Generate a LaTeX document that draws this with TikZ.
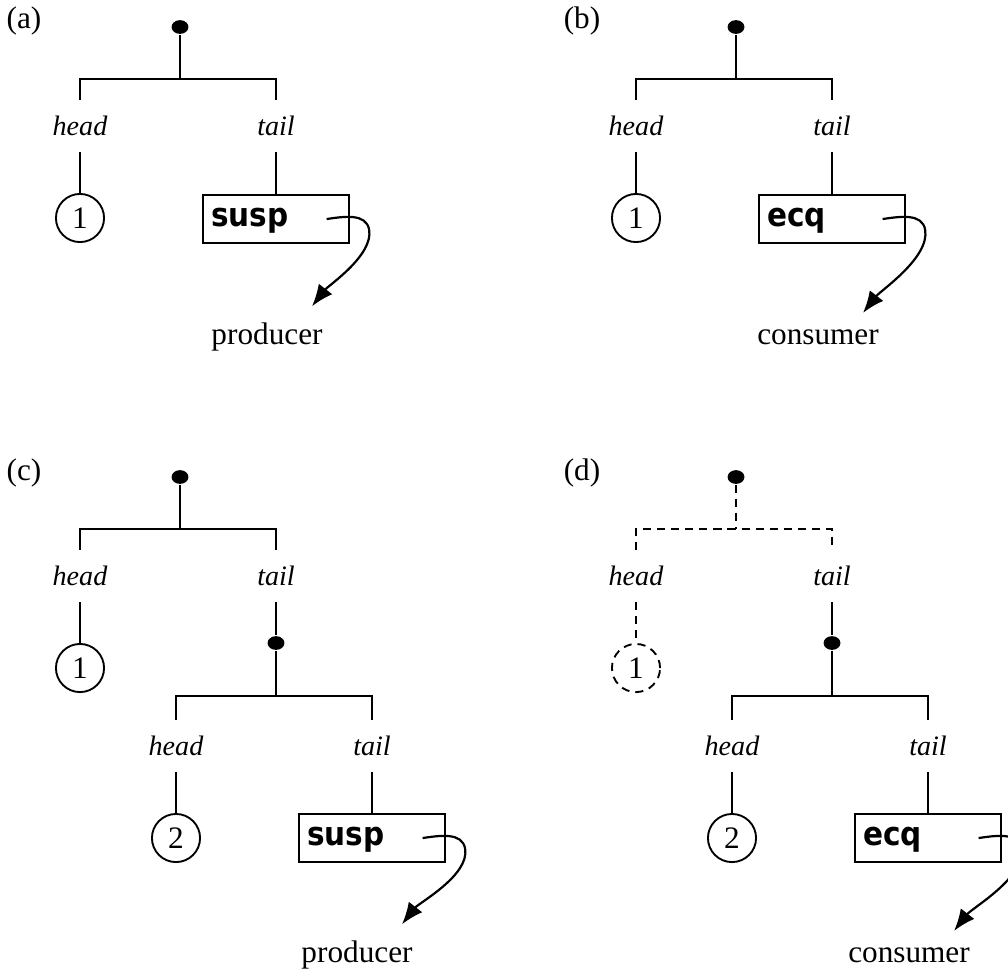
\documentclass[tikz,border=0pt]{standalone}
\usepackage{fontspec}
\setmainfont{Liberation Serif}
\newfontfamily\cellfont{DejaVu Sans}[FakeStretch=0.9]
\usetikzlibrary{arrows.meta,shapes.geometric}

\begin{document}
\begin{tikzpicture}[x=0.32pt,y=-0.32pt,
  font=\fontsize{10}{12}\selectfont,
  line width=0.6pt,
  dot/.style={ellipse,fill,inner sep=0pt,minimum width=5.4pt,minimum height=4.4pt},
  lbl/.style={font=\fontsize{9}{11}\selectfont\itshape,inner sep=0pt,minimum height=16pt},
  num/.style={circle,draw,inner sep=0pt,minimum size=15.4pt},
  cell/.style={draw,inner xsep=2.6pt,inner ysep=0pt,text width=41.4pt,align=left,
    text height=7.4pt,text depth=2.4pt,minimum height=15.4pt,
    font=\cellfont\bfseries\fontsize{10.5}{12}\selectfont},
  tag/.style={inner sep=0pt},
  gone/.style={dash pattern=on 2.6pt off 1.9pt},
  >={Latex[length=7pt,width=5.5pt]}]

\useasboundingbox (0,0) rectangle (1008,971);

% (a) cons cell, tail suspended on the producer
\node[tag] (la) at (24,21) {(a)};
\node[dot] (ra) at (180,27) {};
\coordinate (ba) at (180,79);
\node[lbl] (ha) at (80,126) {head};
\node[lbl] (ta) at (276,126) {tail};
\node[num] (na) at (80,218) {1};
\node[cell] (ca) at (276,219) {susp};
\node[tag] (pa) at (267,337) {producer};
\draw (ra) -- (ba);
\draw (ha.north) |- (ba) -| (ta.north);
\draw (ha.south) -- (na.north);
\draw (ta.south) -- (ca.north);
\draw[->,line width=0.7pt] ([xshift=-7.4pt]ca.east) to[out=8,in=100] ++(13.6pt,-3.4pt)
  to[out=-80,in=52,looseness=0.7] ([xshift=14.4pt,yshift=5pt]pa.north);

% (b) same cell, tail waiting on the consumer
\node[tag] (lb) at (582,21) {(b)};
\node[dot] (rb) at (736,27) {};
\coordinate (bb) at (736,79);
\node[lbl] (hb) at (636,126) {head};
\node[lbl] (tb) at (832,126) {tail};
\node[num] (nb) at (636,218) {1};
\node[cell] (cb) at (832,219) {ecq};
\node[tag] (pb) at (818,337) {consumer};
\draw (rb) -- (bb);
\draw (hb.north) |- (bb) -| (tb.north);
\draw (hb.south) -- (nb.north);
\draw (tb.south) -- (cb.north);
\draw[->,line width=0.7pt] ([xshift=-7.4pt]cb.east) to[out=8,in=100] ++(13.6pt,-3.4pt)
  to[out=-80,in=52,looseness=0.7] ([xshift=14.4pt,yshift=5pt]pb.north);

% (c) two cells, producer one step further
\node[tag] (lc) at (24,473) {(c)};
\node[dot] (rc) at (180,477) {};
\coordinate (bc) at (180,529);
\node[lbl] (hc) at (80,576) {head};
\node[lbl] (tc) at (276,576) {tail};
\node[num] (nc) at (80,668) {1};
\node[dot] (rc2) at (276,643) {};
\coordinate (bc2) at (276,696);
\node[lbl] (hc2) at (176,746) {head};
\node[lbl] (tc2) at (372,746) {tail};
\node[num] (nc2) at (176,838) {2};
\node[cell] (cc) at (372,838) {susp};
\node[tag] (pc) at (357,955) {producer};
\draw (rc) -- (bc);
\draw (hc.north) |- (bc) -| (tc.north);
\draw (hc.south) -- (nc.north);
\draw (tc.south) -- (rc2);
\draw (rc2) -- (bc2);
\draw (hc2.north) |- (bc2) -| (tc2.north);
\draw (hc2.south) -- (nc2.north);
\draw (tc2.south) -- (cc.north);
\draw[->,line width=0.7pt] ([xshift=-7.4pt]cc.east) to[out=8,in=100] ++(13.6pt,-3.4pt)
  to[out=-80,in=52,looseness=0.7] ([xshift=14.4pt,yshift=5pt]pc.north);

% (d) first cell consumed (dashed), consumer on the second
\node[tag] (ld) at (582,473) {(d)};
\node[dot] (rd) at (736,477) {};
\coordinate (bd) at (736,529);
\node[lbl] (hd) at (636,576) {head};
\node[lbl] (td) at (832,576) {tail};
\node[num,gone] (nd) at (636,668) {1};
\node[dot] (rd2) at (832,643) {};
\coordinate (bd2) at (832,696);
\node[lbl] (hd2) at (732,746) {head};
\node[lbl] (td2) at (928,746) {tail};
\node[num] (nd2) at (732,838) {2};
\node[cell] (cd) at (928,838) {ecq};
\node[tag] (pd) at (909,955) {consumer};
\draw[gone] (rd.south) -- (bd);
\draw[gone] (hd.north) |- (bd) -| (td.north);
\draw[gone] (hd.south) -- (nd.north);
\draw (td.south) -- (rd2);
\draw (rd2) -- (bd2);
\draw (hd2.north) |- (bd2) -| (td2.north);
\draw (hd2.south) -- (nd2.north);
\draw (td2.south) -- (cd.north);
\draw[->,line width=0.7pt] ([xshift=-7.4pt]cd.east) to[out=8,in=100] ++(13.6pt,-3.4pt)
  to[out=-80,in=52,looseness=0.7] ([xshift=14.4pt,yshift=5pt]pd.north);
\end{tikzpicture}
\end{document}
